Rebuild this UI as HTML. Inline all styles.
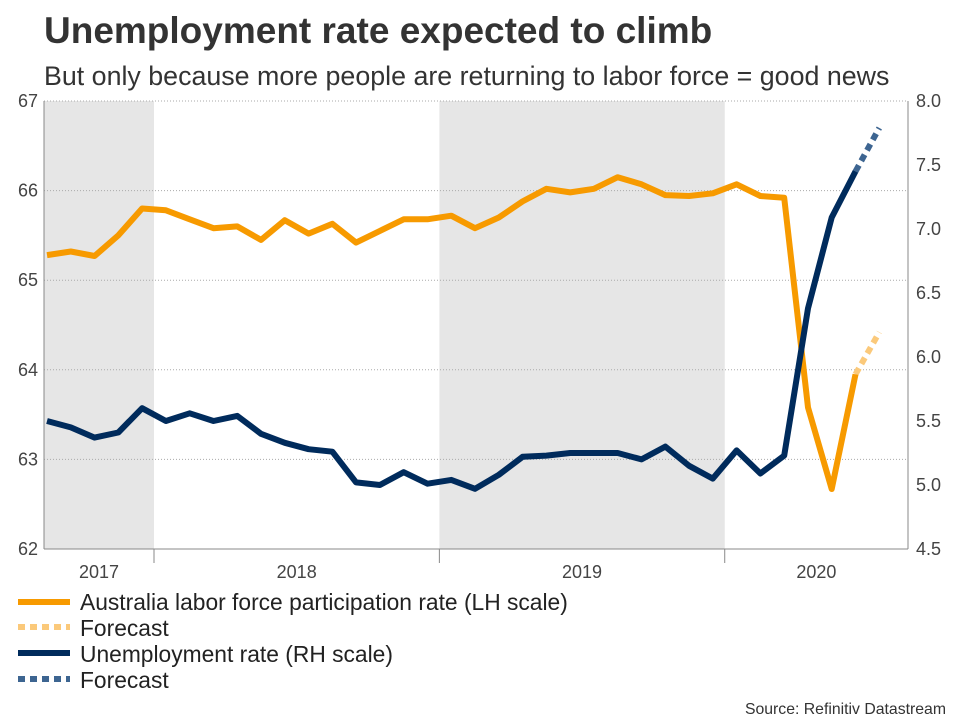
<!DOCTYPE html>
<html><head><meta charset="utf-8"><style>
body{margin:0;background:#fff;font-family:"Liberation Sans",Arial,sans-serif;}
svg text{font-family:"Liberation Sans",Arial,sans-serif;}
</style></head><body>
<svg width="960" height="720" viewBox="0 0 960 720">
<text x="44" y="43" font-size="37" font-weight="bold" fill="#333">Unemployment rate expected to climb</text>
<text x="44" y="85" font-size="26.8" fill="#333">But only because more people are returning to labor force = good news</text>
<g id="plot"></g>
<g>
<line x1="18" y1="602" x2="70" y2="602" stroke="#f79a00" stroke-width="6"/>
<text x="80" y="610" font-size="22.8" fill="#222">Australia labor force participation rate (LH scale)</text>
<line x1="18" y1="627" x2="70" y2="627" stroke="#fbc97a" stroke-width="6" stroke-dasharray="7,5"/>
<text x="80" y="636" font-size="22.8" fill="#222">Forecast</text>
<line x1="18" y1="653" x2="70" y2="653" stroke="#002b5c" stroke-width="6"/>
<text x="80" y="662" font-size="22.8" fill="#222">Unemployment rate (RH scale)</text>
<line x1="18" y1="679" x2="70" y2="679" stroke="#3d6591" stroke-width="6" stroke-dasharray="7,5"/>
<text x="80" y="688" font-size="22.8" fill="#222">Forecast</text>
</g>
<text x="946" y="714" font-size="15.8" fill="#333" text-anchor="end">Source: Refinitiv Datastream</text>
</svg>
<script>
const participation=[65.28,65.32,65.27,65.5,65.8,65.78,65.68,65.58,65.6,65.45,65.67,65.52,65.63,65.42,65.55,65.68,65.68,65.72,65.58,65.7,65.88,66.02,65.98,66.02,66.15,66.07,65.95,65.94,65.97,66.07,65.94,65.92,63.58,62.67,63.95];
const participationForecast=[63.95,64.42];
const unemployment=[5.5,5.45,5.37,5.41,5.6,5.5,5.56,5.5,5.54,5.4,5.33,5.28,5.26,5.02,5.0,5.1,5.01,5.04,4.97,5.08,5.22,5.23,5.25,5.25,5.25,5.2,5.3,5.15,5.05,5.27,5.09,5.23,6.38,7.09,7.45];
const unemploymentForecast=[7.45,7.79];
const leftTicks=[62,63,64,65,66,67];
const rightTicks=[4.5,5.0,5.5,6.0,6.5,7.0,7.5,8.0];
const yearLabels=["2017","2018","2019","2020"];
const yearStartIdx=[-7,5,17,29];

const X0=44,X1=908,Y0=549,Y1=101,STEP=23.78,FIRST=47;
const xs=i=>FIRST+i*STEP;
const yl=v=>Y0-(v-62)/(67-62)*(Y0-Y1);
const yr=v=>Y0-(v-4.5)/(8-4.5)*(Y0-Y1);
const NS="http://www.w3.org/2000/svg";
const g=document.getElementById('plot');
function mk(t,a){const e=document.createElementNS(NS,t);for(const k in a)e.setAttribute(k,a[k]);g.appendChild(e);return e;}
[0,2].forEach(k=>{
 const a=Math.max(X0,xs(yearStartIdx[k]-0.5)), b=xs(yearStartIdx[k]+11.5);
 const r=mk('rect',{x:a,y:Y1,width:b-a,height:Y0-Y1,fill:'#e6e6e6'});
 
 
});
leftTicks.forEach(v=>{
 const l=mk('line',{x1:X0,x2:X1,y1:yl(v),y2:yl(v),stroke:'#aaa','stroke-dasharray':'1,2'});
 
 
 const t=mk('text',{x:X0-6,y:yl(v)+6,'font-size':18,fill:'#444','text-anchor':'end'});t.textContent=v;
 
 
});
rightTicks.forEach(v=>{
 const t=mk('text',{x:X1+8,y:yr(v)+6,'font-size':18,fill:'#444'});t.textContent=v.toFixed(1);
 
 
});
mk('line',{x1:X0,x2:X0,y1:Y1,y2:Y0,stroke:'#888'});
mk('line',{x1:X1,x2:X1,y1:Y1,y2:Y0,stroke:'#888'});
mk('line',{x1:X0,x2:X1,y1:Y0,y2:Y0,stroke:'#888'});
yearLabels.forEach((y,k)=>{
 const a=Math.max(X0,xs(yearStartIdx[k]-0.5)), b=Math.min(X1,xs(yearStartIdx[k]+11.5));
 const t=mk('text',{x:(a+b)/2,y:Y0+29,'font-size':18,fill:'#444','text-anchor':'middle'});t.textContent=y;
 
 
 if(k>0){mk('line',{x1:a,x2:a,y1:Y0,y2:Y0+14,stroke:'#888'});}
});
function line(vals,off,fy,color,dash,name){
 const p=vals.map((v,i)=>(i?'L':'M')+xs(i+off).toFixed(1)+','+fy(v).toFixed(1)).join('');
 const e=mk('path',{d:p,fill:'none',stroke:color,'stroke-width':6,'stroke-linejoin':'round'});
 if(dash)e.setAttribute('stroke-dasharray',dash);
 
 
}
line(participationForecast,participation.length-1,yl,'#fbc97a','7,5','participation-forecast-line');
line(unemploymentForecast,unemployment.length-1,yr,'#3d6591','7,5','unemployment-forecast-line');
line(participation,0,yl,'#f79a00',null,'participation-line');
line(unemployment,0,yr,'#002b5c',null,'unemployment-line');
</script>
</body></html>
